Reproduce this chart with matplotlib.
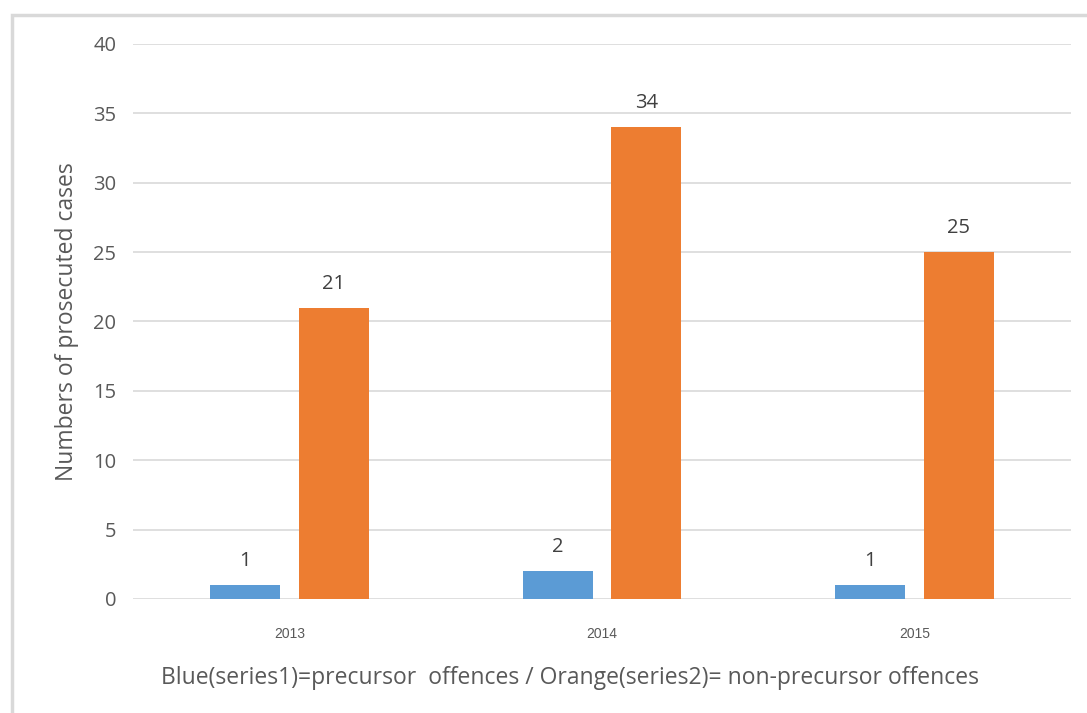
import numpy as np
import matplotlib.pyplot as plt
from matplotlib.patches import Rectangle

# === Données ===
years = ["2013", "2014", "2015"]
precursor = [1, 2, 1]
non_precursor = [21, 34, 25]
y_ticks = [0, 5, 10, 15, 20, 25, 30, 35, 40]

blue = "#5B9BD5"
orange = "#ED7D31"
grey_txt = "#595959"

plt.rcParams['font.family'] = ['Open Sans', 'DejaVu Sans']

fig = plt.figure(figsize=(10.87, 7.13), dpi=100)
ax = fig.add_axes([0.1224, 0.1599, 0.8629, 0.7784])

# cadre gris clair autour du graphique
fig.patches.append(Rectangle((12 / 1087, -0.05), 1.1, 1 - 15 / 713 + 0.05,
                             transform=fig.transFigure, fill=False,
                             edgecolor="#D9D9D9", linewidth=2.5))

x = np.arange(len(years))
w = 0.224
off = 0.1415
b1 = ax.bar(x - off, precursor, w, color=blue, zorder=3)
b2 = ax.bar(x + off, non_precursor, w, color=orange, zorder=3)

for bars in (b1, b2):
    for r in bars:
        ax.text(r.get_x() + r.get_width() / 2, r.get_height() + 1.0,
                f"{int(r.get_height())}", ha="center", va="bottom",
                fontsize=14.5, color="#404040")

ax.set_xlim(-0.5, 2.5)
ax.set_ylim(0, 40)
ax.set_yticks(y_ticks)
ax.set_yticklabels([str(t) for t in y_ticks], fontsize=14.5, color=grey_txt)
ax.set_xticks(x)
ax.set_xticklabels(years, fontsize=10, color=grey_txt, family="Liberation Sans")
ax.tick_params(axis="both", length=0)
ax.tick_params(axis="y", pad=12)
ax.tick_params(axis="x", pad=20)

ax.grid(axis="y", color="#D9D9D9", linewidth=1.2, zorder=0)
for s in ax.spines.values():
    s.set_visible(False)

ax.set_ylabel("Numbers of prosecuted cases", fontsize=16.5, color=grey_txt)
ax.yaxis.set_label_coords(-0.058, 0.5)
ax.set_xlabel("Blue(series1)=precursor  offences / Orange(series2)= non-precursor offences",
              fontsize=16.5, color=grey_txt)
ax.xaxis.set_label_coords(0.466, -0.120)

plt.savefig("out.png", dpi=100)
